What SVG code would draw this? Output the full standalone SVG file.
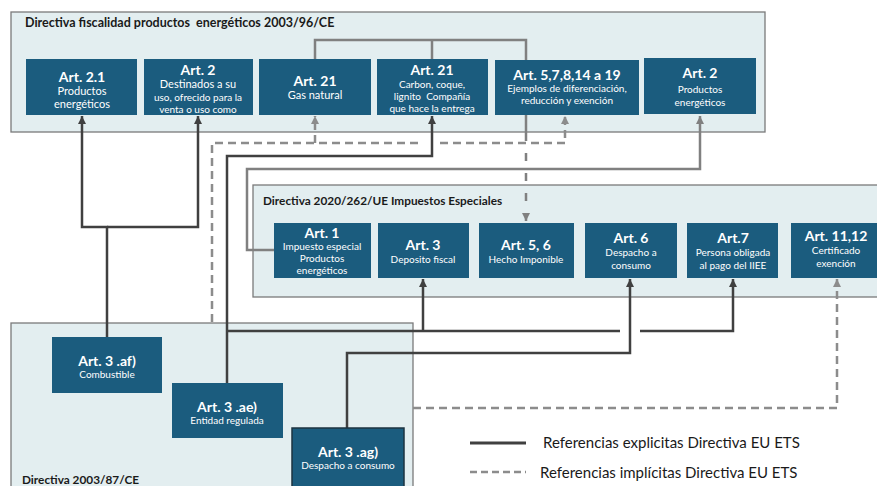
<svg xmlns="http://www.w3.org/2000/svg" width="877" height="486" viewBox="0 0 877 486">
<style>
.panel{fill:#e3eef0;stroke:#7a7a7a;stroke-width:1.3}
.box{fill:#1b5c7e}
.ptitle{font-family:Lato,"Liberation Sans",sans-serif;font-weight:bold;font-size:12.5px;fill:#1a1a1a;white-space:pre}
.h{font-family:Lato,"Liberation Sans",sans-serif;font-weight:bold;font-size:14px;fill:#fff;text-anchor:middle}
.t{font-family:Lato,"Liberation Sans",sans-serif;font-size:11px;fill:#fff;text-anchor:middle}
.s{font-family:Lato,"Liberation Sans",sans-serif;font-size:10px;fill:#fff;text-anchor:middle}
.dark{fill:none;stroke:#404040;stroke-width:2.5}
.gray{fill:none;stroke:#808080;stroke-width:2.5}
.dash{fill:none;stroke:#8c8c8c;stroke-width:2.5;stroke-dasharray:8 5}
.leg{font-family:Lato,"Liberation Sans",sans-serif;font-size:15px;fill:#1a1a1a}
</style>
<defs>
<marker id="ad" markerUnits="userSpaceOnUse" markerWidth="9" markerHeight="9" refX="8" refY="4" orient="auto"><path d="M0,0 L8,4 L0,8 z" fill="#404040"/></marker>
<marker id="ag" markerUnits="userSpaceOnUse" markerWidth="9" markerHeight="9" refX="8" refY="4" orient="auto"><path d="M0,0 L8,4 L0,8 z" fill="#808080"/></marker>
<marker id="al" markerUnits="userSpaceOnUse" markerWidth="9" markerHeight="9" refX="8" refY="4" orient="auto"><path d="M0,0 L8,4 L0,8 z" fill="#8c8c8c"/></marker>
</defs>
<rect width="877" height="486" fill="#fff"/>

<g id="panel-2003-96">
<rect class="panel" x="11" y="12" width="754" height="120"/>
<text class="ptitle" x="25" y="27" xml:space="preserve">Directiva fiscalidad productos  energéticos 2003/96/CE</text>
</g>
<g id="panel-2020-262">
<rect class="panel" x="253" y="185" width="640" height="112"/>
<text class="ptitle" x="263" y="205" style="font-size:11.8px">Directiva 2020/262/UE Impuestos Especiales</text>
</g>
<g id="panel-2003-87">
<rect class="panel" x="11" y="323" width="402" height="180"/>
<text class="ptitle" x="22" y="484" style="font-size:11.8px">Directiva 2003/87/CE</text>
</g>

<g id="connectors">
<path class="gray" d="M315,59 V40 H526 V60 M432,40 V59"/>
<path class="gray" d="M275,250 H247 V169 H700 V116" marker-end="url(#ag)"/>
<path class="gray" d="M526,115 V133"/>
<path class="gray" d="M526,133 V221" style="stroke-dasharray:8 12" marker-end="url(#ag)"/>
<path class="dash" d="M212,322 V143 H423"/>
<path class="dash" d="M440,143 H565 V116" marker-end="url(#al)"/>
<path class="dash" d="M315,143 V116" marker-end="url(#al)"/>
<path class="dash" d="M413,408 H837 V279" marker-end="url(#al)"/>
<path class="dark" d="M107,337 V227 H82 V116" marker-end="url(#ad)"/>
<path class="dark" d="M107,227 H198 V116" marker-end="url(#ad)"/>
<path class="dark" d="M227,383 V156 H432 V116" marker-end="url(#ad)"/>
<path class="dark" d="M227,331 H620"/>
<path class="dark" d="M423,331 V279" marker-end="url(#ad)"/>
<path class="dark" d="M640,331 H733 V279" marker-end="url(#ad)"/>
<path class="dark" d="M347,428 V353 H630 V279" marker-end="url(#ad)"/>
</g>

<g id="art2-1">
<rect class="box" x="26" y="59" width="111" height="56"/>
<text class="h" x="82" y="82">Art. 2.1</text>
<text class="t" x="82" y="95">Productos</text>
<text class="t" x="82" y="108">energéticos</text>
</g>
<g id="art2-destinados">
<rect class="box" x="144" y="59" width="109" height="56"/>
<text class="h" x="198" y="75">Art. 2</text>
<text class="t" x="198" y="88">Destinados a su</text>
<text class="s" x="198" y="101">uso, ofrecido para la</text>
<text class="s" x="198" y="113">venta o uso como</text>
</g>
<g id="art21-gas">
<rect class="box" x="259" y="59" width="112" height="56"/>
<text class="h" x="315" y="86">Art. 21</text>
<text class="t" x="315" y="99">Gas natural</text>
</g>
<g id="art21-carbon">
<rect class="box" x="377" y="59" width="111" height="56"/>
<text class="h" x="432" y="75">Art. 21</text>
<text class="s" x="432" y="88">Carbon, coque,</text>
<text class="s" x="432" y="100" xml:space="preserve">lignito  Compañía</text>
<text class="s" x="432" y="112">que hace la entrega</text>
</g>
<g id="art5-19">
<rect class="box" x="495" y="60" width="144" height="55"/>
<text class="h" x="567" y="80">Art. 5,7,8,14 a 19</text>
<text class="s" x="567" y="92">Ejemplos de diferenciación,</text>
<text class="s" x="567" y="104">reducción y exención</text>
</g>
<g id="art2-productos">
<rect class="box" x="644" y="58" width="112" height="56"/>
<text class="h" x="700" y="78">Art. 2</text>
<text class="s" x="700" y="93">Productos</text>
<text class="s" x="700" y="106">energéticos</text>
</g>

<g id="art1">
<rect class="box" x="274" y="223" width="97" height="55"/>
<text class="h" x="322" y="238">Art. 1</text>
<text class="s" x="322" y="250">Impuesto especial</text>
<text class="s" x="322" y="262">Productos</text>
<text class="s" x="322" y="274">energéticos</text>
</g>
<g id="art3-deposito">
<rect class="box" x="378" y="223" width="91" height="55"/>
<text class="h" x="423" y="250">Art. 3</text>
<text class="s" x="423" y="263">Deposito fiscal</text>
</g>
<g id="art5-6">
<rect class="box" x="479" y="223" width="95" height="55"/>
<text class="h" x="526" y="250">Art. 5, 6</text>
<text class="s" x="526" y="263">Hecho Imponible</text>
</g>
<g id="art6">
<rect class="box" x="585" y="223" width="92" height="55"/>
<text class="h" x="631" y="243">Art. 6</text>
<text class="s" x="631" y="256">Despacho a</text>
<text class="s" x="631" y="269">consumo</text>
</g>
<g id="art7">
<rect class="box" x="687" y="223" width="91" height="55"/>
<text class="h" x="733" y="243">Art.7</text>
<text class="s" x="733" y="256">Persona obligada</text>
<text class="s" x="733" y="269">al pago del IIEE</text>
</g>
<g id="art11-12">
<rect class="box" x="791" y="223" width="90" height="55"/>
<text class="h" x="836" y="241">Art. 11,12</text>
<text class="s" x="836" y="254">Certificado</text>
<text class="s" x="836" y="267">exención</text>
</g>

<g id="art3-af">
<rect class="box" x="52" y="337" width="110" height="56"/>
<text class="h" x="107" y="366">Art. 3 .af)</text>
<text class="s" x="107" y="378">Combustible</text>
</g>
<g id="art3-ae">
<rect class="box" x="172" y="383" width="111" height="55"/>
<text class="h" x="227" y="412">Art. 3 .ae)</text>
<text class="s" x="227" y="424">Entidad regulada</text>
</g>
<g id="art3-ag">
<rect class="box" x="292" y="428" width="112" height="62" stroke="#1d3340" stroke-width="1.5"/>
<text class="h" x="348" y="457">Art. 3 .ag)</text>
<text class="s" x="348" y="469">Despacho a consumo</text>
</g>

<g id="legend">
<line x1="470" y1="443" x2="526" y2="443" stroke="#404040" stroke-width="3"/>
<text class="leg" x="543" y="448">Referencias explicitas Directiva EU ETS</text>
<line x1="470" y1="472" x2="526" y2="472" stroke="#8c8c8c" stroke-width="2.5" stroke-dasharray="7 4"/>
<text class="leg" x="540" y="478">Referencias implícitas Directiva EU ETS</text>
</g>
</svg>
